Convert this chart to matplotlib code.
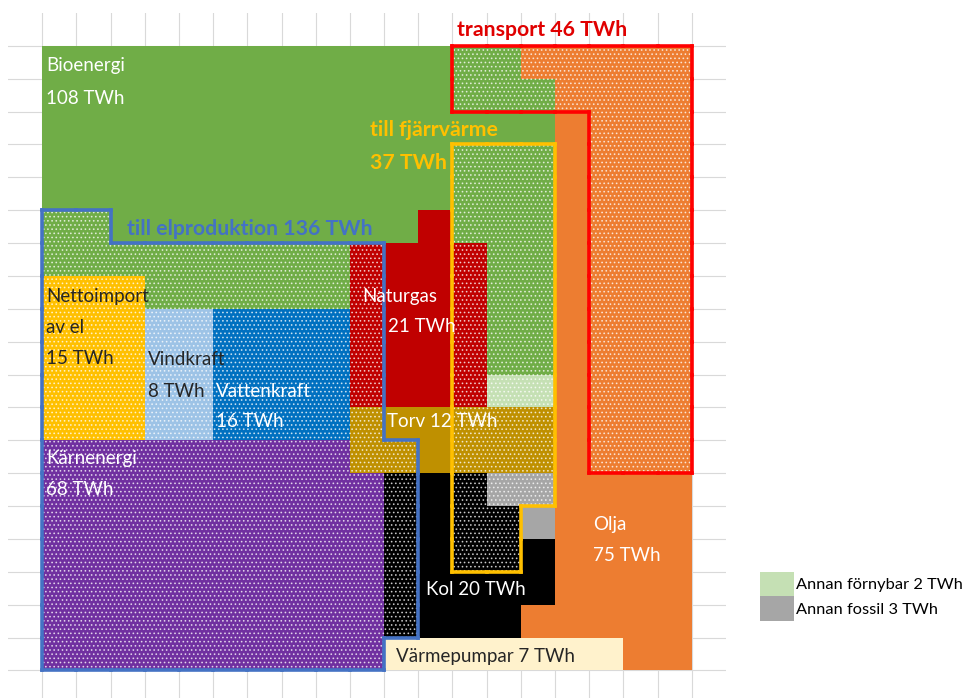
import itertools
import numpy as np
import matplotlib
matplotlib.use("Agg")
import matplotlib.pyplot as plt
from matplotlib.collections import LineCollection
from matplotlib.patches import Patch

# energy sources, one cell in the grid = 1 TWh
fuel_codes = ["B", "Y", "V", "H", "K", "N", "T", "C", "W", "O", "G", "F"]
fuel_names = ["Bioenergi", "Nettoimport av el", "Vindkraft", "Vattenkraft",
              "Kärnenergi", "Naturgas", "Torv", "Kol", "Värmepumpar",
              "Olja", "Annan förnybar", "Annan fossil"]
fuel_twh = [108, 15, 8, 16, 68, 21, 12, 20, 7, 75, 2, 3]

# uses (outlined regions)
use_codes = ["E", "F", "T"]
use_names = ["till elproduktion", "till fjärrvärme", "transport"]
use_twh = [136, 37, 46]

# cell map, one string per grid row, one char per column
cell_rows = [
    "BBBBBBBBBBBBBBOOOOO",
    "BBBBBBBBBBBBBBBOOOO",
    "BBBBBBBBBBBBBBBOOOO",
    "BBBBBBBBBBBBBBBOOOO",
    "BBBBBBBBBBBBBBBOOOO",
    "BBBBBBBBBBBNBBBOOOO",
    "BBBBBBBBBNNNNBBOOOO",
    "YYYBBBBBBNNNNBBOOOO",
    "YYYVVHHHHNNNNBBOOOO",
    "YYYVVHHHHNNNNBBOOOO",
    "YYYVVHHHHNNNNGGOOOO",
    "YYYVVHHHHTTTTTTOOOO",
    "KKKKKKKKKTTTTTTOOOO",
    "KKKKKKKKKKCCCFFOOOO",
    "KKKKKKKKKKCCCCFOOOO",
    "KKKKKKKKKKCCCCCOOOO",
    "KKKKKKKKKKCCCCCOOOO",
    "KKKKKKKKKKCCCCOOOOO",
    "KKKKKKKKKKWWWWWWWOO",
]
# which use each cell goes to ('.' = none)
group_rows = [
    "............TTTTTTT",
    "............TTTTTTT",
    "................TTT",
    "............FFF.TTT",
    "............FFF.TTT",
    "EE..........FFF.TTT",
    "EEEEEEEEEE..FFF.TTT",
    "EEEEEEEEEE..FFF.TTT",
    "EEEEEEEEEE..FFF.TTT",
    "EEEEEEEEEE..FFF.TTT",
    "EEEEEEEEEE..FFF.TTT",
    "EEEEEEEEEE..FFF.TTT",
    "EEEEEEEEEEE.FFF.TTT",
    "EEEEEEEEEEE.FFF....",
    "EEEEEEEEEEE.FF.....",
    "EEEEEEEEEEE.FF.....",
    "EEEEEEEEEEE........",
    "EEEEEEEEEEE........",
    "EEEEEEEEEE.........",
]

fuel_color = {"B": "#70ad47", "Y": "#ffc000", "V": "#9dc3e6", "H": "#0070c0",
              "K": "#7030a0", "N": "#c00000", "T": "#bf9000", "C": "#000000",
              "W": "#fff2cc", "O": "#ed7d31", "G": "#c5e0b4", "F": "#a6a6a6"}
use_color = {"E": "#4472c4", "F": "#ffc000", "T": "#ff0000"}

plt.rcParams["font.family"] = ["Lato", "DejaVu Sans"]
plt.rcParams["hatch.color"] = "#ffffffb0"
plt.rcParams["hatch.linewidth"] = 0.7

fig = plt.figure(figsize=(9.7, 6.98), dpi=100)
ax = fig.add_axes([8 / 970, 0, 718 / 970, 685 / 698])
ax.set_xlim(-1, 20)
ax.set_ylim(19.84, -1)

# cells, merged into runs per row
for r, (cells, groups) in enumerate(zip(cell_rows, group_rows)):
    c = 0
    for (code, grp), run in itertools.groupby(zip(cells, groups)):
        n = len(list(run))
        ax.bar(c, 1, width=n, bottom=r, align="edge", color=fuel_color[code],
               hatch="...." if grp != "." else None, linewidth=0,
               antialiased=False, zorder=2)
        c += n

# outlines of the use regions, taken from the group map
grid = np.array([list(g) for g in group_rows])
nr, nc = grid.shape
for g in use_codes:
    segs = []
    for r in range(nr):
        for c in range(nc):
            if grid[r, c] != g:
                continue
            if r == 0 or grid[r - 1, c] != g:
                segs.append([(c, r), (c + 1, r)])
            if r == nr - 1 or grid[r + 1, c] != g:
                segs.append([(c, r + 1), (c + 1, r + 1)])
            if c == 0 or grid[r, c - 1] != g:
                segs.append([(c, r), (c, r + 1)])
            if c == nc - 1 or grid[r, c + 1] != g:
                segs.append([(c + 1, r), (c + 1, r + 1)])
    ax.add_collection(LineCollection(segs, colors=use_color[g], linewidths=2.6,
                                     capstyle="projecting", zorder=3))

tw = dict(zip(fuel_codes, fuel_twh))
fs = 13.5
white = "white"
dark = "#262626"
labels = [
    ("Bioenergi", 0.12, 0.61, white),
    (f"{tw['B']} TWh", 0.12, 1.61, white),
    ("Nettoimport", 0.12, 7.61, dark),
    ("av el", 0.12, 8.58, dark),
    (f"{tw['Y']} TWh", 0.12, 9.5, dark),
    ("Vindkraft", 3.1, 9.53, dark),
    (f"{tw['V']} TWh", 3.1, 10.53, dark),
    ("Vattenkraft", 5.09, 10.53, white),
    (f"{tw['H']} TWh", 5.09, 11.44, white),
    ("Naturgas", 9.36, 7.64, white),
    (f"{tw['N']} TWh", 10.12, 8.55, white),
    (f"Torv {tw['T']} TWh", 10.09, 11.44, white),
    ("Kärnenergi", 0.12, 12.54, white),
    (f"{tw['K']} TWh", 0.12, 13.51, white),
    (f"Kol {tw['C']} TWh", 11.23, 16.55, white),
    ("Olja", 16.11, 14.55, white),
    (f"{tw['O']} TWh", 16.11, 15.49, white),
    (f"Värmepumpar {tw['W']} TWh", 10.35, 18.59, dark),
]
for s, x, y, col in labels:
    ax.text(x, y, s, color=col, fontsize=fs, ha="left", va="center", zorder=4)

ut = dict(zip(use_codes, use_twh))
bfs = 15.3
ax.text(2.49, 5.57, f"{use_names[0]} {ut['E']} TWh", color="#4472c4",
        fontsize=bfs, fontweight="bold", va="center", zorder=4)
ax.text(9.59, 2.56, use_names[1], color="#ffc000", fontsize=bfs,
        fontweight="bold", va="center", zorder=4)
ax.text(9.59, 3.56, f"{ut['F']} TWh", color="#ffc000", fontsize=bfs,
        fontweight="bold", va="center", zorder=4)
ax.text(12.13, -0.49, f"{use_names[2]} {ut['T']} TWh", color="#e00000",
        fontsize=bfs, fontweight="bold", va="center", zorder=4)

# background grid like the spreadsheet
ax.set_xticks(np.arange(0, 20))
ax.set_yticks(np.arange(0, 20))
ax.grid(True, color="#d9d9d9", linewidth=0.8)
ax.set_axisbelow(True)
ax.tick_params(length=0, labelbottom=False, labelleft=False)
for s in ax.spines.values():
    s.set_visible(False)

handles = [Patch(facecolor=fuel_color["G"]), Patch(facecolor=fuel_color["F"])]
leg_labels = [f"{fuel_names[10]} {fuel_twh[10]} TWh", f"{fuel_names[11]} {fuel_twh[11]} TWh"]
fig.legend(handles, leg_labels, loc="upper left",
           bbox_to_anchor=(760 / 970, 1 - 572 / 698), frameon=False,
           fontsize=11.8, handlelength=2.1, handleheight=1.9,
           labelspacing=0, borderpad=0, borderaxespad=0, handletextpad=0.12)

fig.savefig("out.png", dpi=100)
